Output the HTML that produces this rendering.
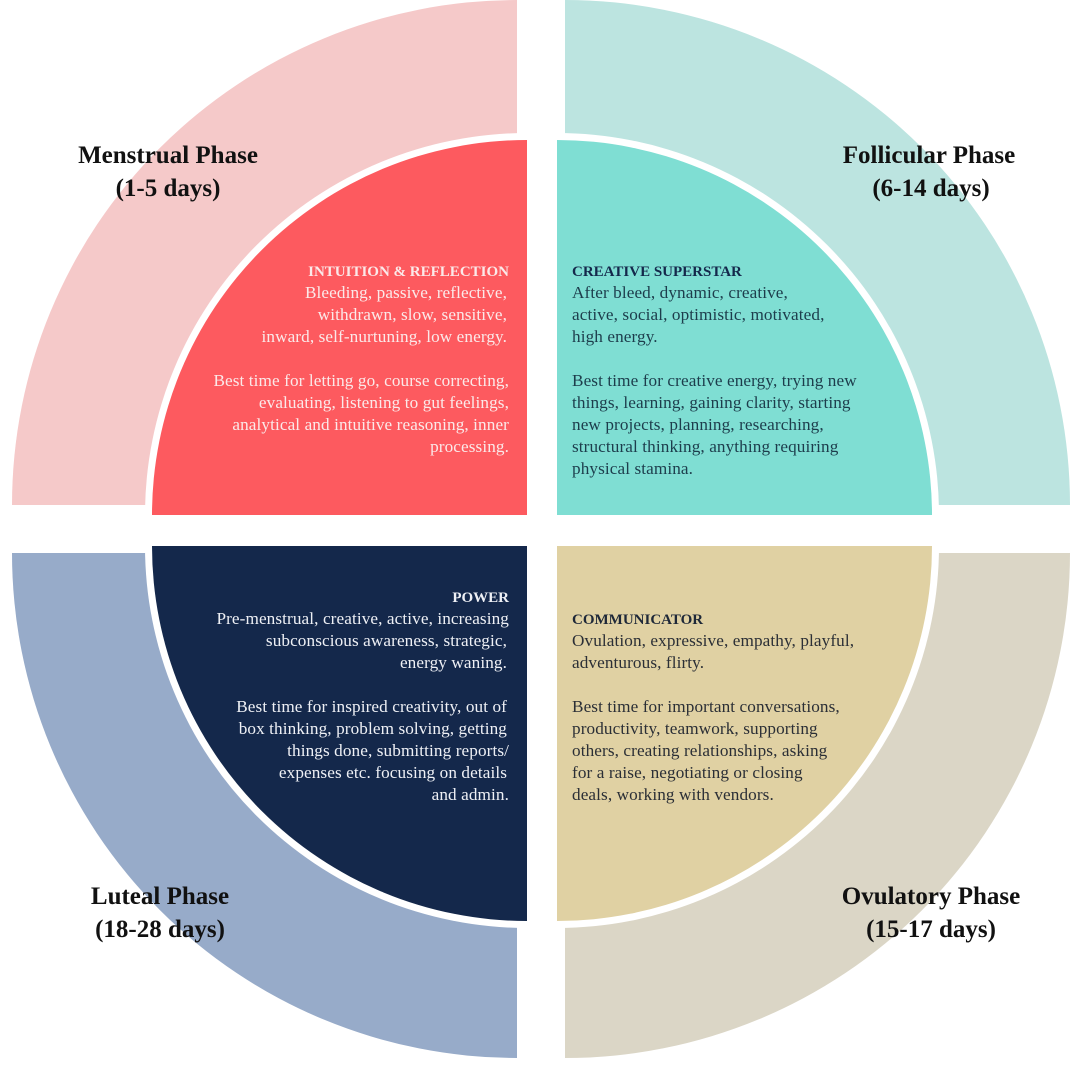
<!DOCTYPE html>
<html><head><meta charset="utf-8"><style>
html,body{margin:0;padding:0;background:#fff;}
svg{display:block;}
.b{font-family:"Liberation Serif",serif;font-size:17.2px;letter-spacing:0.1px;}
.h{font-family:"Liberation Serif",serif;font-size:15px;font-weight:bold;}
.l{font-family:"Liberation Serif",serif;font-size:25px;font-weight:bold;fill:#111;}
</style></head><body>
<svg width="1080" height="1080" viewBox="0 0 1080 1080" xmlns="http://www.w3.org/2000/svg">
<rect width="1080" height="1080" fill="#fff"/>
<path d="M517,505 L12,505 A505,505 0 0 1 517,0 Z" fill="#f5c9c9"/>
<path d="M565,505 L565,0 A505,505 0 0 1 1070,505 Z" fill="#bce4e0"/>
<path d="M517,553 L517,1058 A505,505 0 0 1 12,553 Z" fill="#97abc9"/>
<path d="M565,553 L1070,553 A505,505 0 0 1 565,1058 Z" fill="#dbd6c6"/>
<path d="M527,515 L145,515 A382,382 0 0 1 527,133 Z" fill="#fff"/>
<path d="M557,515 L557,133 A382,382 0 0 1 939,515 Z" fill="#fff"/>
<path d="M527,546 L527,928 A382,382 0 0 1 145,546 Z" fill="#fff"/>
<path d="M557,546 L939,546 A382,382 0 0 1 557,928 Z" fill="#fff"/>
<path d="M527,515 L152,515 A375,375 0 0 1 527,140 Z" fill="#fd5a5f"/>
<path d="M557,515 L557,140 A375,375 0 0 1 932,515 Z" fill="#7fded3"/>
<path d="M527,546 L527,921 A375,375 0 0 1 152,546 Z" fill="#14284b"/>
<path d="M557,546 L932,546 A375,375 0 0 1 557,921 Z" fill="#e0d1a3"/>

<text class="l" x="168" y="163" text-anchor="middle">Menstrual Phase</text>
<text class="l" x="168" y="196" text-anchor="middle">(1-5 days)</text>
<text class="l" x="929" y="163" text-anchor="middle">Follicular Phase</text>
<text class="l" x="931" y="196" text-anchor="middle">(6-14 days)</text>
<text class="l" x="160" y="904" text-anchor="middle">Luteal Phase</text>
<text class="l" x="160" y="937" text-anchor="middle">(18-28 days)</text>
<text class="l" x="931" y="904" text-anchor="middle">Ovulatory Phase</text>
<text class="l" x="931" y="937" text-anchor="middle">(15-17 days)</text>

<g fill="#fbe9e9" text-anchor="end">
<text class="h" x="509" y="276">INTUITION &amp; REFLECTION</text>
<text class="b" x="507" y="298">Bleeding, passive, reflective,</text>
<text class="b" x="507" y="320">withdrawn, slow, sensitive,</text>
<text class="b" x="507" y="342">inward, self-nurtuning, low energy.</text>
<text class="b" x="509" y="386">Best time for letting go, course correcting,</text>
<text class="b" x="509" y="408">evaluating, listening to gut feelings,</text>
<text class="b" x="509" y="430">analytical and intuitive reasoning, inner</text>
<text class="b" x="509" y="452">processing.</text>
</g>
<g fill="#1d3d4c">
<text class="h" x="572" y="276" fill="#14284b">CREATIVE SUPERSTAR</text>
<text class="b" x="572" y="298">After bleed, dynamic, creative,</text>
<text class="b" x="572" y="320">active, social, optimistic, motivated,</text>
<text class="b" x="572" y="342">high energy.</text>
<text class="b" x="572" y="386">Best time for creative energy, trying new</text>
<text class="b" x="572" y="408">things, learning, gaining clarity, starting</text>
<text class="b" x="572" y="430">new projects, planning, researching,</text>
<text class="b" x="572" y="452">structural thinking, anything requiring</text>
<text class="b" x="572" y="474">physical stamina.</text>
</g>
<g fill="#eef0f5" text-anchor="end">
<text class="h" x="509" y="602">POWER</text>
<text class="b" x="509" y="624">Pre-menstrual, creative, active, increasing</text>
<text class="b" x="507" y="646">subconscious awareness, strategic,</text>
<text class="b" x="507" y="668">energy waning.</text>
<text class="b" x="507" y="712">Best time for inspired creativity, out of</text>
<text class="b" x="507" y="734">box thinking, problem solving, getting</text>
<text class="b" x="509" y="756">things done, submitting reports/</text>
<text class="b" x="507" y="778">expenses etc. focusing on details</text>
<text class="b" x="509" y="800">and admin.</text>
</g>
<g fill="#2b2f36">
<text class="h" x="572" y="624" fill="#1e2838">COMMUNICATOR</text>
<text class="b" x="572" y="646">Ovulation, expressive, empathy, playful,</text>
<text class="b" x="572" y="668">adventurous, flirty.</text>
<text class="b" x="572" y="712">Best time for important conversations,</text>
<text class="b" x="572" y="734">productivity, teamwork, supporting</text>
<text class="b" x="572" y="756">others, creating relationships, asking</text>
<text class="b" x="572" y="778">for a raise, negotiating or closing</text>
<text class="b" x="572" y="800">deals, working with vendors.</text>
</g>
</svg>
</body></html>
